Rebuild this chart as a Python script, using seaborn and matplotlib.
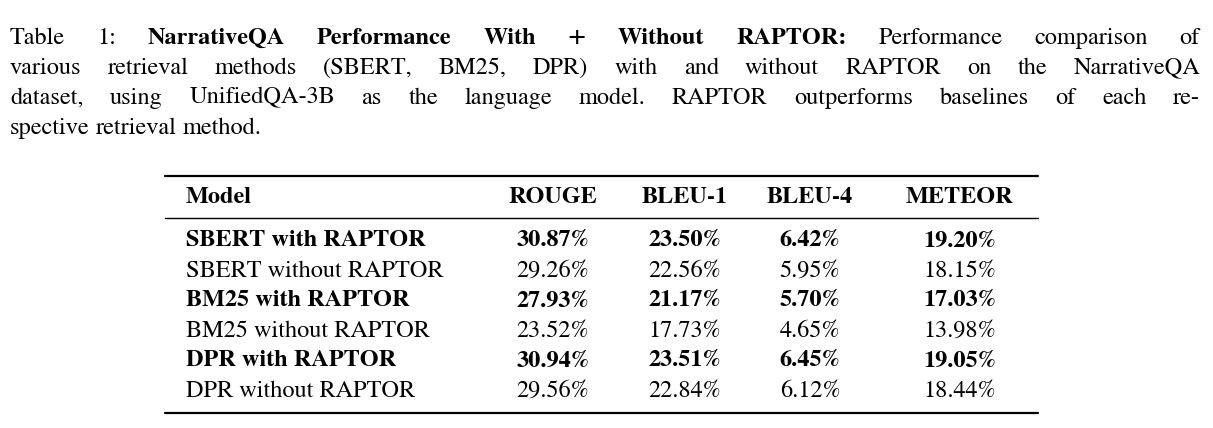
import matplotlib
matplotlib.use("Agg")
import matplotlib.pyplot as plt
import seaborn as sns
from matplotlib.lines import Line2D

sns.set_theme(style="white")
plt.rcParams['font.family'] = ['STIXGeneral', 'Liberation Serif', 'DejaVu Serif']
plt.rcParams['text.color'] = 'black'

columns = ["Model", "ROUGE", "BLEU-1", "BLEU-4", "METEOR"]
models = ["SBERT with RAPTOR", "SBERT without RAPTOR", "BM25 with RAPTOR",
          "BM25 without RAPTOR", "DPR with RAPTOR", "DPR without RAPTOR"]
rouge = ["30.87%", "29.26%", "27.93%", "23.52%", "30.94%", "29.56%"]
bleu1 = ["23.50%", "22.56%", "21.17%", "17.73%", "23.51%", "22.84%"]
bleu4 = ["6.42%", "5.95%", "5.70%", "4.65%", "6.45%", "6.12%"]
meteor = ["19.20%", "18.15%", "17.03%", "13.98%", "19.05%", "18.44%"]
bold_rows = [True, False, True, False, True, False]

caption = [
    [("Table 1:", "normal"), ("NarrativeQA Performance With + Without RAPTOR:", "bold"),
     ("Performance comparison of", "normal")],
    [("various retrieval methods (SBERT, BM25, DPR) with and without RAPTOR on the NarrativeQA", "normal")],
    [("dataset, using UnifiedQA-3B as the language model.  RAPTOR outperforms baselines of each re-", "normal")],
    [("spective retrieval method.", "normal")],
]

W, H = 1213, 428
fig = plt.figure(figsize=(W / 100, H / 100), dpi=100)
fig.patch.set_facecolor("white")
FS = 17.5

def fx(x): return x / W
def fy(y): return 1 - y / H

renderer = fig.canvas.get_renderer()
cap_y = [38, 68, 98, 128]
left, right = 10, 1200
for li, segs in enumerate(caption):
    words = []
    for txt, wt in segs:
        for w in txt.split():
            words.append((w, wt))
    texts = [fig.text(0, fy(cap_y[li]), w, fontsize=FS, fontweight=wt, va="center", color="black")
             for w, wt in words]
    widths = [t.get_window_extent(renderer).width for t in texts]
    justify = li < len(caption) - 1
    if justify and len(words) > 1:
        gap = (right - left - sum(widths)) / (len(words) - 1)
    else:
        gap = FS * 0.25 * 100 / 72
    x = left
    for t, w in zip(texts, widths):
        t.set_x(fx(x))
        x += w + gap

for y, lw in [(176, 1.6), (218, 1.0), (413, 1.6)]:
    fig.add_artist(Line2D([fx(165), fx(1038)], [fy(y), fy(y)], color="black", lw=lw))

col_x = [186, 553, 685, 810, 960]
fig.text(fx(col_x[0]), fy(197), columns[0], fontsize=FS, fontweight="bold", va="center", color="black")
for cx, c in zip(col_x[1:], columns[1:]):
    fig.text(fx(cx), fy(197), c, fontsize=FS, fontweight="bold", va="center", ha="center", color="black")

row_y = [241, 271, 301, 331, 361, 391]
for i, m in enumerate(models):
    wt = "bold" if bold_rows[i] else "normal"
    fig.text(fx(col_x[0]), fy(row_y[i]), m, fontsize=FS, fontweight=wt, va="center", color="black")
    for cx, vals in zip(col_x[1:], [rouge, bleu1, bleu4, meteor]):
        fig.text(fx(cx), fy(row_y[i]), vals[i], fontsize=FS, fontweight=wt,
                 va="center", ha="center", color="black")

fig.savefig("out.png", dpi=100, facecolor="white")
